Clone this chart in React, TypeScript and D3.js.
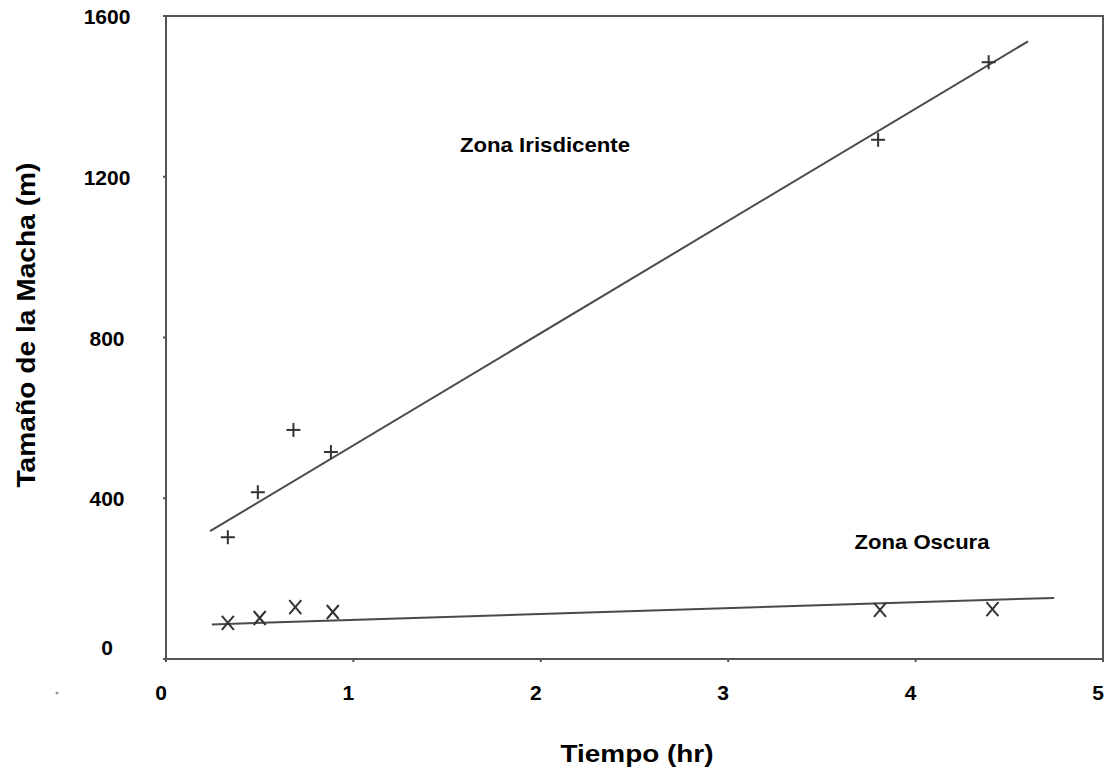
import React from "react";
import * as d3 from "d3";

const xTicks = [0, 1, 2, 3, 4, 5];
const yTicks = [0, 400, 800, 1200, 1600];

const irisX = [0.33, 0.49, 0.68, 0.88, 3.8, 4.39];
const irisY = [303, 415, 570, 515, 1292, 1485];
const irisFit = [[0.235, 318], [4.6, 1537]];

const oscX = [0.33, 0.5, 0.69, 0.89, 3.81, 4.41];
const oscY = [90, 102, 129, 117, 122, 124];
const oscFit = [[0.245, 86], [4.74, 152]];

const W = 1120, H = 773;
const L = 166, R = 1103, T = 16, B = 659;

export default function App() {
  const x = d3.scaleLinear().domain([0, 5]).range([L, R]);
  const y = d3.scaleLinear().domain([0, 1600]).range([B, T]);
  const line = d3.line<number[]>().x(d => x(d[0])).y(d => y(d[1]));
  const stroke = "#4a4a4a";
  const font = "Arial, 'Liberation Sans', sans-serif";
  const s = 7;
  return (
    <svg width={W} height={H} style={{ position: "absolute", left: 0, top: 0, background: "#fff" }}>
      <rect x={L} y={T} width={R - L} height={B - T} fill="none" stroke="#555" strokeWidth={2} />
      {xTicks.map(t => (
        <g key={"xt" + t}>
          <line x1={x(t)} x2={x(t)} y1={B} y2={B + 3} stroke="#555" strokeWidth={2} />
          <text x={x(t) - 5} y={700} fontFamily={font} fontWeight="bold" fontSize={21} textAnchor="middle" fill="#000">{t}</text>
        </g>
      ))}
      {yTicks.map(t => (
        <g key={"yt" + t}>
          <line x1={L - 3} x2={L} y1={y(t)} y2={y(t)} stroke="#555" strokeWidth={2} />
          <text x={107} y={y(t) + (t === 0 ? -4 : 8)} fontFamily={font} fontWeight="bold" fontSize={21} textAnchor="middle" fill="#000">{t}</text>
        </g>
      ))}
      <path d={line(irisFit as any) || ""} fill="none" stroke={stroke} strokeWidth={2} />
      <path d={line(oscFit as any) || ""} fill="none" stroke={stroke} strokeWidth={2} />
      {irisX.map((v, i) => (
        <g key={"p" + i} stroke="#333" strokeWidth={2}>
          <line x1={x(v) - s} x2={x(v) + s} y1={y(irisY[i])} y2={y(irisY[i])} />
          <line x1={x(v)} x2={x(v)} y1={y(irisY[i]) - s} y2={y(irisY[i]) + s} />
        </g>
      ))}
      {oscX.map((v, i) => (
        <g key={"o" + i} stroke="#333" strokeWidth={2}>
          <line x1={x(v) - 6} x2={x(v) + 6} y1={y(oscY[i]) - 7} y2={y(oscY[i]) + 7} />
          <line x1={x(v) + 6} x2={x(v) - 6} y1={y(oscY[i]) - 7} y2={y(oscY[i]) + 7} />
        </g>
      ))}
      <text x={545} y={152} fontFamily={font} fontWeight="bold" fontSize={21} textAnchor="middle" textLength={170} lengthAdjust="spacingAndGlyphs" fill="#000">Zona Irisdicente</text>
      <text x={922} y={549} fontFamily={font} fontWeight="bold" fontSize={21} textAnchor="middle" textLength={135} lengthAdjust="spacingAndGlyphs" fill="#000">Zona Oscura</text>
      <text x={637} y={762} fontFamily={font} fontWeight="bold" fontSize={24} textAnchor="middle" textLength={153} lengthAdjust="spacingAndGlyphs" fill="#000">Tiempo (hr)</text>
      <text transform={`translate(35,325) rotate(-90)`} fontFamily={font} fontWeight="bold" fontSize={25} textAnchor="middle" textLength={325} lengthAdjust="spacingAndGlyphs" fill="#000">Tamaño de la Macha (m)</text>
      <circle cx={57} cy={693} r={1.5} fill="#999" />
    </svg>
  );
}
